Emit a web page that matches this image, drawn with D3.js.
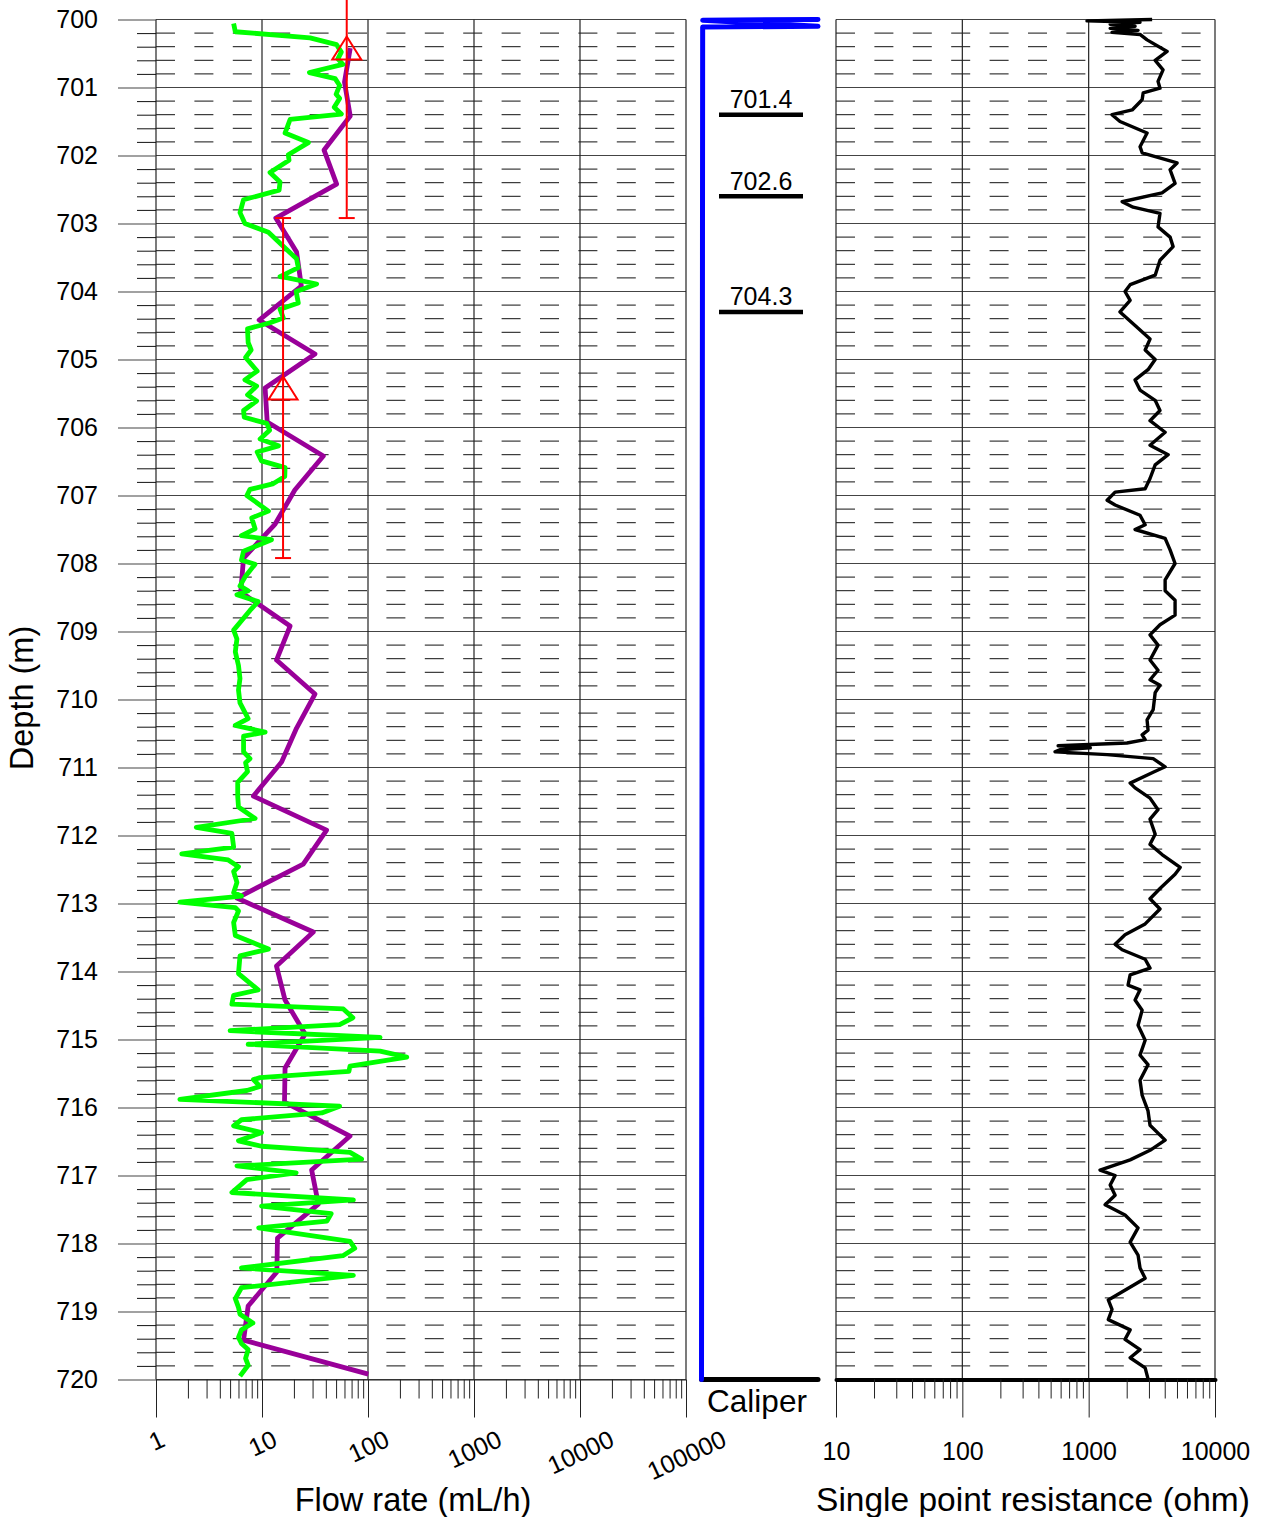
<!DOCTYPE html>
<html>
<head>
<meta charset="utf-8">
<script src="https://cdn.jsdelivr.net/npm/d3@7"></script>
<style>
  body { margin: 0; background: #fff; }
  text { font-family: "Liberation Sans", Arial, sans-serif; fill: #000; }
</style>
</head>
<body>
<div id="chart"></div>
<script>
// ---- data ----
const depthTicks = [700, 701, 702, 703, 704, 705, 706, 707, 708, 709, 710,
                    711, 712, 713, 714, 715, 716, 717, 718, 719, 720];
const flowTicks = [1, 10, 100, 1000, 10000, 100000];
const resTicks = [10, 100, 1000, 10000];

// flow with pumping (purple), mL/h
const purpleDepth = [700.42, 700.92, 701.42, 701.92, 702.42, 702.92, 703.42, 703.92, 704.42, 704.92,
                     705.42, 705.92, 706.42, 706.92, 707.42, 707.92, 708.42, 708.92, 709.42, 709.92,
                     710.42, 710.92, 711.42, 711.92, 712.42, 712.92, 713.42, 713.92, 714.42, 714.92,
                     715.42, 715.92, 716.42, 716.92, 717.42, 717.92, 718.42, 718.92, 719.42, 719.92];
const purpleFlow = [68, 60, 68, 38.5, 50.6, 13.5, 21.2, 23.5, 9.4, 31.6,
                    10.7, 11.2, 37.9, 20.4, 13.3, 6.7, 6.3, 18.4, 13.7, 31.6,
                    21.2, 15.3, 8.3, 40.7, 24.5, 5.8, 30.5, 13.7, 16.5, 25.5,
                    16.5, 16.3, 67.7, 29.4, 34, 14, 13.8, 7.4, 6.7, 100.7];

// flow, fine step (green), mL/h
const greenDepth = [700.06, 700.18, 700.27, 700.37, 700.48, 700.58, 700.66, 700.78, 700.87, 700.97,
                    701.10, 701.16, 701.29, 701.39, 701.47, 701.67, 701.81, 701.99, 702.07, 702.25,
                    702.39, 702.51, 702.65, 702.84, 703.00, 703.13, 703.29, 703.52, 703.65, 703.78,
                    703.80, 703.89, 704.00, 704.17, 704.26, 704.39, 704.46, 704.55, 704.75, 704.86,
                    704.97, 705.17, 705.30, 705.39, 705.52, 705.61, 705.75, 705.85, 705.94, 706.04,
                    706.17, 706.27, 706.36, 706.49, 706.59, 706.72, 706.83, 706.91, 707.00, 707.23,
                    707.33, 707.49, 707.59, 707.65, 707.82, 707.95, 708.01, 708.20, 708.33, 708.40,
                    708.46, 708.56, 708.69, 708.98, 709.11, 709.30, 709.50, 709.69, 709.86, 710.05,
                    710.28, 710.38, 710.48, 710.54, 710.77, 710.87, 710.93, 711.06, 711.22, 711.42,
                    711.58, 711.75, 711.88, 711.97, 712.17, 712.27, 712.36, 712.46, 712.53, 712.69,
                    712.84, 712.89, 712.98, 713.06, 713.11, 713.28, 713.47, 713.67, 713.77, 714.03,
                    714.27, 714.35, 714.48, 714.55, 714.68, 714.78, 714.87, 714.97, 715.07, 715.17,
                    715.26, 715.39, 715.47, 715.56, 715.59, 715.69, 715.75, 715.88, 715.98, 716.08,
                    716.18, 716.27, 716.37, 716.49, 716.57, 716.66, 716.76, 716.86, 716.96, 717.06,
                    717.25, 717.36, 717.45, 717.56, 717.67, 717.77, 717.97, 718.07, 718.18, 718.36,
                    718.47, 718.65, 718.81, 718.94, 719.04, 719.17, 719.27, 719.38, 719.47, 719.56,
                    719.69, 719.79, 719.95];
const greenFlow = [5.4, 5.6, 28.4, 50.6, 56, 52, 58, 28, 49, 54,
                   50, 54, 48, 56, 18.4, 16.5, 27.4, 17.7, 18, 11.9,
                   14.8, 14.5, 6.7, 6.2, 6.9, 11.5, 14.8, 21.2, 22, 14.8,
                   17.5, 32.8, 21, 22, 14.8, 15.9, 11.9, 7.3, 7.4, 7.9,
                   7.0, 9.0, 6.9, 8.9, 7.3, 8.9, 6.7, 6.8, 11.1, 11.8,
                   9.6, 14.3, 9.0, 9.9, 16.5, 16.4, 12.6, 7.7, 7.2, 11.5,
                   8.0, 8.6, 6.4, 12.3, 6.7, 6.4, 8.6, 6.9, 6.2, 7.4,
                   5.8, 9.2, 7.7, 5.4, 5.8, 5.6, 6.0, 6.2, 6.0, 6.2,
                   7.4, 5.6, 10.7, 6.7, 6.7, 7.7, 7.0, 7.3, 5.9, 5.9,
                   6.0, 8.6, 2.4, 5.2, 5.4, 1.75, 4.8, 6.0, 5.4, 5.8,
                   5.4, 6.4, 1.68, 5.6, 6.0, 5.4, 5.6, 11.5, 6.2, 6.0,
                   9.2, 5.4, 5.2, 58.5, 72, 54, 5.0, 130, 7.4, 130,
                   232, 67.7, 66, 9.6, 8.3, 9.6, 7.2, 1.68, 54, 36.6,
                   6.4, 5.4, 9.9, 6.0, 9.9, 67.7, 87, 5.8, 21, 7.2,
                   5.2, 72.8, 9.9, 45, 41, 9.3, 67.7, 75, 58, 6.4,
                   72.8, 6.4, 5.6, 6.0, 6.2, 8.2, 6.4, 6.0, 6.4, 7.4,
                   7.0, 7.4, 6.2];

// interval estimates (red): centre depth, flow, half length (m)
const errDepth = [700.42, 705.42];
const errFlow = [63, 15.8];
const errHalf = [2.5, 2.5];

// caliper (relative units)
const caliperDepth = [700.0, 700.01, 700.1, 700.11, 720.0];
const caliperValue = [100, 1, 100, 1, 0];

// fracture depths
const fractures = [701.4, 702.6, 704.3];

// single point resistance, ohm
const resDepth = [700.00, 700.02, 700.04, 700.07, 700.10, 700.13, 700.16, 700.19, 700.22, 700.30,
                  700.47, 700.60, 700.74, 700.91, 701.01, 701.08, 701.18, 701.33, 701.40, 701.50,
                  701.67, 701.87, 701.96, 702.11, 702.21, 702.41, 702.55, 702.68, 702.76, 702.85,
                  703.05, 703.20, 703.34, 703.54, 703.76, 703.90, 704.00, 704.13, 704.30, 704.50,
                  704.70, 704.86, 705.00, 705.15, 705.30, 705.45, 705.60, 705.75, 705.90, 706.07,
                  706.26, 706.40, 706.55, 706.75, 706.90, 706.95, 707.07, 707.14, 707.29, 707.43,
                  707.50, 707.63, 707.80, 708.00, 708.24, 708.40, 708.54, 708.76, 708.90, 709.05,
                  709.20, 709.42, 709.57, 709.71, 709.79, 709.90, 710.15, 710.30, 710.45, 710.52,
                  710.59, 710.64, 710.68, 710.71, 710.74, 710.77, 710.81, 710.84, 710.87, 710.99,
                  711.07, 711.23, 711.30, 711.45, 711.62, 711.76, 711.98, 712.13, 712.28, 712.47,
                  712.57, 712.78, 712.93, 713.08, 713.30, 713.46, 713.60, 713.68, 713.82, 713.95,
                  714.05, 714.20, 714.27, 714.42, 714.57, 714.79, 715.01, 715.23, 715.37, 715.60,
                  715.82, 716.05, 716.26, 716.48, 716.63, 716.77, 716.92, 717.00, 717.14, 717.29,
                  717.43, 717.58, 717.77, 717.98, 718.17, 718.36, 718.51, 718.60, 718.83, 718.97,
                  719.12, 719.27, 719.41, 719.56, 719.68, 719.83, 719.99];
const resValue = [3180, 970, 2550, 1480, 2330, 1480, 2460, 1530, 2550, 2900,
                  4180, 3360, 3880, 3540, 3670, 2700, 2650, 2210, 1530, 1770,
                  2900, 2550, 2650, 5010, 4410, 4830, 3810, 1840, 2250, 3670,
                  3540, 4410, 4660, 3670, 3360, 2130, 1940, 2130, 1770, 2330,
                  3060, 2800, 3360, 2950, 2330, 2550, 3360, 3670, 3060, 4030,
                  3060, 4260, 3360, 3060, 2800, 1620, 1400, 1620, 2550, 2800,
                  2330, 4030, 4410, 4830, 4030, 4030, 4830, 4830, 3670, 3060,
                  3540, 3060, 3540, 3060, 3670, 3360, 3240, 2900, 2950, 2650,
                  2800, 2010, 573, 1030, 590, 542, 1400, 2130, 3240, 4030,
                  3240, 2130, 2330, 3060, 3540, 3060, 3360, 3060, 3810, 5300,
                  4830, 3670, 3060, 3670, 2800, 1940, 1620, 1840, 2800, 3060,
                  2130, 2050, 2550, 2330, 2650, 2460, 2800, 2550, 2950, 2550,
                  2650, 2950, 3060, 4030, 3060, 2130, 1230, 1620, 1480, 1620,
                  1350, 1940, 2460, 2130, 2460, 2550, 2800, 2330, 1430, 1530,
                  1430, 2130, 1940, 2550, 2130, 2800, 2950];

// ---- layout ----
const width = 1263, height = 1517;

const svg = d3.select('#chart').append('svg')
    .attr('width', width)
    .attr('height', height);

const y = d3.scaleLinear().domain([700, 720]).range([19.5, 1379.5]);
const xFlow = d3.scaleLog().domain([1, 100000]).range([156, 686]);
const xRes = d3.scaleLog().domain([10, 10000]).range([836, 1215]);
const xCal = d3.scaleLinear().domain([0, 100]).range([701.5, 818]);

// grid helpers
const minorDepths = d3.range(0, 101).filter(i => i % 5 !== 0).map(i => 700 + i * 0.2);
const logMinor = ticks => {
  const out = [];
  ticks.slice(0, -1).forEach(t => { for (let k = 2; k < 10; k++) out.push(t * k); });
  return out;
};

function drawGrid(g, x, ticks) {
  const [x0, x1] = x.range();
  g.append('g').selectAll('line')
    .data(minorDepths)
    .join('line')
      .attr('x1', x0).attr('x2', x1)
      .attr('y1', d => y(d)).attr('y2', d => y(d))
      .attr('stroke', '#111')
      .attr('stroke-dasharray', '19 19.4');
  g.append('g').selectAll('line')
    .data(depthTicks)
    .join('line')
      .attr('x1', x0).attr('x2', x1)
      .attr('y1', d => y(d)).attr('y2', d => y(d))
      .attr('stroke', '#444').attr('stroke-width', 1.2);
  g.append('g').selectAll('line')
    .data(ticks)
    .join('line')
      .attr('x1', d => x(d)).attr('x2', d => x(d))
      .attr('y1', y(700)).attr('y2', y(720))
      .attr('stroke', '#222').attr('stroke-width', 1.2);
}

// ---- flow panel ----
const flowG = svg.append('g');
drawGrid(flowG, xFlow, flowTicks);

// depth axis
flowG.append('g')
    .attr('transform', `translate(${xFlow(1)},0)`)
    .call(d3.axisLeft(y).tickValues(depthTicks).tickSize(38).tickPadding(20).tickFormat(d3.format('d')))
    .call(g => g.select('.domain').remove())
    .call(g => g.selectAll('line').attr('stroke', '#444').attr('stroke-width', 1.2))
    .call(g => g.selectAll('text').attr('font-size', 25).attr('font-family', '"Liberation Sans", Arial, sans-serif'));
flowG.append('g')
    .attr('transform', `translate(${xFlow(1)},0)`)
    .call(d3.axisLeft(y).tickValues(minorDepths).tickSize(19).tickFormat(''))
    .call(g => g.select('.domain').remove())
    .call(g => g.selectAll('line').attr('stroke', '#111'));

// flow axis
const flowAxis = flowG.append('g')
    .attr('transform', `translate(0,${y(720)})`)
    .call(d3.axisBottom(xFlow).tickValues(flowTicks).tickSize(38).tickSizeOuter(0).tickFormat(d3.format('d')));
flowAxis.select('.domain').attr('stroke', '#222');
flowAxis.selectAll('line').attr('stroke', '#222');
flowAxis.selectAll('text')
    .attr('font-size', 25)
    .attr('font-family', '"Liberation Sans", Arial, sans-serif')
    .each(function() {
      const a = 25 * Math.PI / 180;
      const w = this.getComputedTextLength();
      const bh = w * Math.sin(a) + 18 * Math.cos(a);
      d3.select(this)
        .attr('y', 0)
        .attr('dy', '0.36em')
        .attr('text-anchor', 'middle')
        .attr('transform', `translate(0,${49.5 + bh / 2}) rotate(-25)`);
    });
flowG.append('g')
    .attr('transform', `translate(0,${y(720)})`)
    .call(d3.axisBottom(xFlow).tickValues(logMinor(flowTicks)).tickSize(19).tickSizeOuter(0).tickFormat(''))
    .call(g => g.select('.domain').remove())
    .call(g => g.selectAll('line').attr('stroke', '#222'));

// series
const flowLine = d3.line()
    .x(d => xFlow(d[1]))
    .y(d => y(d[0]));

flowG.append('path')
    .datum(d3.zip(purpleDepth, purpleFlow))
    .attr('fill', 'none')
    .attr('stroke', '#990099')
    .attr('stroke-width', 4.8)
    .attr('stroke-linejoin', 'round')
    .attr('d', flowLine);

flowG.append('path')
    .datum(d3.zip(greenDepth, greenFlow))
    .attr('fill', 'none')
    .attr('stroke', '#00ff00')
    .attr('stroke-width', 4.8)
    .attr('stroke-linejoin', 'round')
    .attr('d', flowLine);

// interval bars
const err = flowG.append('g')
    .attr('stroke', '#ff0000')
    .attr('stroke-width', 2)
    .attr('fill', 'none')
  .selectAll('g')
  .data(d3.zip(errDepth, errFlow, errHalf))
  .join('g')
    .attr('transform', d => `translate(${xFlow(d[1])},0)`);
err.append('line')
    .attr('y1', d => y(d[0] - d[2]))
    .attr('y2', d => y(d[0] + d[2]));
err.append('line')
    .attr('x1', -8).attr('x2', 8)
    .attr('y1', d => y(d[0] + d[2])).attr('y2', d => y(d[0] + d[2]));
err.append('line')
    .attr('x1', -8).attr('x2', 8)
    .attr('y1', d => y(d[0] - d[2])).attr('y2', d => y(d[0] - d[2]));
err.append('path')
    .attr('transform', d => `translate(0,${y(d[0])})`)
    .attr('d', 'M0,-11.5L14.5,11.5L-14.5,11.5Z');

// ---- caliper ----
const calG = svg.append('g');
calG.append('line')
    .attr('x1', xCal(0)).attr('x2', xCal(100))
    .attr('y1', y(720)).attr('y2', y(720))
    .attr('stroke', '#000')
    .attr('stroke-width', 5)
    .attr('stroke-linecap', 'round');
calG.append('path')
    .datum(d3.zip(caliperDepth, caliperValue))
    .attr('fill', 'none')
    .attr('stroke', '#0000ff')
    .attr('stroke-width', 5)
    .attr('stroke-linejoin', 'round')
    .attr('stroke-linecap', 'round')
    .attr('d', d3.line().x(d => xCal(d[1])).y(d => y(d[0])));

const frac = calG.selectAll('g.frac')
  .data(fractures)
  .join('g')
    .attr('class', 'frac');
frac.append('line')
    .attr('x1', 719).attr('x2', 803)
    .attr('y1', d => y(d)).attr('y2', d => y(d))
    .attr('stroke', '#000')
    .attr('stroke-width', 4.5);
frac.append('text')
    .attr('x', 761)
    .attr('y', d => y(d) - 6.5)
    .attr('text-anchor', 'middle')
    .attr('font-size', 25)
    .text(d => d.toFixed(1));

calG.append('text')
    .attr('x', 757)
    .attr('y', 1412)
    .attr('text-anchor', 'middle')
    .attr('font-size', 31.5)
    .text('Caliper');

// ---- resistance panel ----
const resG = svg.append('g');
drawGrid(resG, xRes, resTicks);

const resAxis = resG.append('g')
    .attr('transform', `translate(0,${y(720)})`)
    .call(d3.axisBottom(xRes).tickValues(resTicks).tickSize(38).tickSizeOuter(0).tickPadding(25).tickFormat(d3.format('d')));
resAxis.selectAll('.tick line').attr('stroke', '#222');
resAxis.selectAll('text').attr('font-size', 25).attr('font-family', '"Liberation Sans", Arial, sans-serif');
resG.append('g')
    .attr('transform', `translate(0,${y(720)})`)
    .call(d3.axisBottom(xRes).tickValues(logMinor(resTicks)).tickSize(19).tickSizeOuter(0).tickFormat(''))
    .call(g => g.select('.domain').remove())
    .call(g => g.selectAll('line').attr('stroke', '#222'));

resG.append('path')
    .datum(d3.zip(resDepth, resValue))
    .attr('fill', 'none')
    .attr('stroke', '#000')
    .attr('stroke-width', 3.4)
    .attr('stroke-linejoin', 'round')
    .attr('d', d3.line().x(d => xRes(d[1])).y(d => y(d[0])));

resAxis.select('.domain')
    .attr('stroke', '#000')
    .attr('stroke-width', 4)
    .attr('stroke-linecap', 'round')
    .raise();

// ---- titles ----
svg.append('text')
    .attr('transform', 'translate(33,698) rotate(-90)')
    .attr('text-anchor', 'middle')
    .attr('font-size', 32.5)
    .text('Depth (m)');

svg.append('text')
    .attr('x', 413)
    .attr('y', 1511)
    .attr('text-anchor', 'middle')
    .attr('font-size', 32.5)
    .text('Flow rate (mL/h)');

svg.append('text')
    .attr('x', 1033)
    .attr('y', 1511)
    .attr('text-anchor', 'middle')
    .attr('font-size', 33.5)
    .text('Single point resistance (ohm)');
</script>
</body>
</html>
